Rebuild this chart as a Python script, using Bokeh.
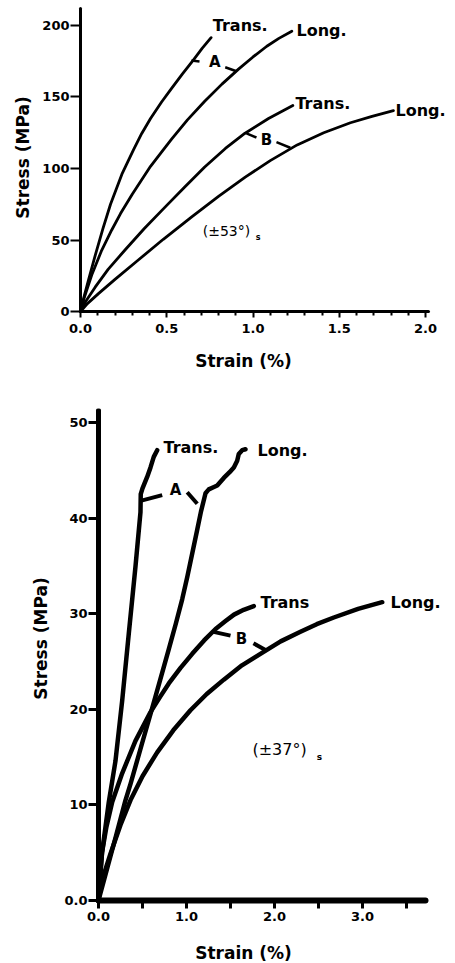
import math
from bokeh.plotting import figure
from bokeh.layouts import column
from bokeh.models import FixedTicker, ColumnDataSource, LabelSet, Label
from bokeh.embed import file_html
from bokeh.resources import INLINE
from bokeh.core.properties import value

FONT = "DejaVu Sans"

# ---------------- top panel: (±53°)s ----------------
top_a_trans_x = [0.0, 0.02, 0.045, 0.087, 0.13, 0.174, 0.24, 0.307, 0.355, 0.406, 0.47, 0.528, 0.59, 0.655, 0.705, 0.757]
top_a_trans_y = [0.0, 10.0, 21.5, 40.0, 58.0, 75.0, 96.0, 113.0, 124.5, 135.0, 146.5, 156.0, 166.0, 176.0, 184.0, 191.5]
top_a_long_x = [0.0, 0.02, 0.065, 0.12, 0.181, 0.232, 0.3, 0.406, 0.473, 0.528, 0.62, 0.72, 0.82, 0.916, 1.0, 1.08, 1.15, 1.225]
top_a_long_y = [0.0, 9.0, 25.5, 42.0, 57.0, 68.5, 82.0, 101.5, 112.0, 120.5, 134.0, 147.0, 159.0, 169.5, 178.0, 185.5, 191.0, 196.0]
top_b_trans_x = [0.0, 0.03, 0.085, 0.16, 0.258, 0.37, 0.49, 0.6, 0.72, 0.84, 0.952, 1.09, 1.231]
top_b_trans_y = [0.0, 7.0, 17.0, 29.5, 43.0, 58.0, 73.0, 86.5, 101.0, 114.0, 124.5, 135.0, 144.0]
top_b_long_x = [0.0, 0.04, 0.104, 0.2, 0.335, 0.48, 0.643, 0.8, 0.955, 1.1, 1.256, 1.41, 1.565, 1.69, 1.814]
top_b_long_y = [0.0, 5.5, 12.5, 22.5, 36.0, 50.5, 66.0, 80.5, 94.0, 105.5, 116.5, 125.0, 132.0, 136.5, 140.5]

top_x_ticks = [0.0, 0.5, 1.0, 1.5, 2.0]
top_x_tick_labels = ["0.0", "0.5", "1.0", "1.5", "2.0"]
top_x_minor = [0.1, 0.2, 0.3, 0.4, 0.6, 0.7, 0.8, 0.9, 1.1, 1.2, 1.3, 1.4, 1.6, 1.7, 1.8, 1.9]
top_y_ticks = [0, 50, 100, 150, 200]
top_y_tick_labels = ["0", "50", "100", "150", "200"]
top_x_axis_end = 2.017
top_y_axis_end = 212.0

top_curve_labels = ["Trans.", "Long.", "Trans.", "Long."]
top_curve_label_x = [0.767, 1.252, 1.246, 1.826]
top_curve_label_y = [200.0, 196.5, 145.5, 140.6]
top_group_labels = ["A", "B"]
top_group_label_x = [0.779, 1.078]
top_group_label_y = [174.3, 119.6]
top_ptr_x0 = [0.643, 0.839, 0.962, 1.136]
top_ptr_y0 = [175.5, 170.8, 124.5, 118.4]
top_ptr_x1 = [0.69, 0.904, 1.02, 1.216]
top_ptr_y1 = [174.8, 168.0, 121.7, 114.5]
top_note = "(±53°)"
top_note_x = 0.846
top_note_y = 56.6
top_note_sub_x = 1.03
top_note_sub_y = 52.0
top_xtitle_pos = (0.945, -34.3)
top_ytitle_pos = (-0.336, 107.7)

# ---------------- bottom panel: (±37°)s ----------------
bot_a_trans_x = [0.0, 0.04, 0.117, 0.193, 0.269, 0.344, 0.42, 0.477, 0.48, 0.50, 0.553, 0.591, 0.628, 0.667]
bot_a_trans_y = [0.0, 5.0, 10.3, 14.6, 20.9, 27.9, 34.9, 40.6, 42.5, 43.1, 44.3, 45.3, 46.4, 47.1]
bot_a_long_x = [0.0, 0.1, 0.2, 0.307, 0.364, 0.497, 0.628, 0.72, 0.799, 0.88, 0.951, 1.01, 1.065, 1.12,
                1.165, 1.2, 1.216, 1.253, 1.3, 1.349, 1.424, 1.49, 1.538, 1.576, 1.594, 1.633, 1.67]
bot_a_long_y = [0.0, 3.4, 6.8, 10.5, 12.2, 16.5, 20.7, 23.7, 26.3, 29.0, 31.5, 33.9, 36.3, 38.7,
                40.7, 42.0, 42.6, 43.0, 43.2, 43.4, 44.2, 44.8, 45.3, 46.0, 46.7, 47.1, 47.2]
bot_b_trans_x = [0.0, 0.02, 0.04, 0.09, 0.156, 0.269, 0.42, 0.591, 0.7, 0.799, 0.93, 1.065, 1.2, 1.33,
                 1.44, 1.54, 1.65, 1.765]
bot_b_trans_y = [0.0, 2.8, 5.0, 7.7, 10.3, 13.3, 16.7, 19.7, 21.3, 22.7, 24.3, 25.8, 27.2, 28.4,
                 29.2, 29.9, 30.4, 30.8]
bot_b_long_x = [0.0, 0.023, 0.07, 0.136, 0.25, 0.364, 0.5, 0.667, 0.85, 1.045, 1.23, 1.424, 1.63, 1.84,
                2.07, 2.295, 2.48, 2.674, 2.95, 3.224]
bot_b_long_y = [0.0, 1.4, 3.0, 4.9, 7.9, 10.5, 13.0, 15.5, 17.8, 19.9, 21.6, 23.1, 24.6, 25.8,
                27.1, 28.1, 28.9, 29.6, 30.5, 31.2]

bot_x_ticks = [0, 1, 2, 3]
bot_x_tick_labels = ["0.0", "1.0", "2.0", "3.0"]
bot_x_minor = [0.5, 1.5, 2.5, 3.5]
bot_y_ticks = [0, 10, 20, 30, 40, 50]
bot_y_tick_labels = ["0.0", "10", "20", "30", "40", "50"]
bot_x_axis_end = 3.716
bot_y_axis_end = 51.3

bot_curve_labels = ["Trans.", "Long.", "Trans", "Long."]
bot_curve_label_x = [0.739, 1.807, 1.841, 3.318]
bot_curve_label_y = [47.4, 47.1, 31.2, 31.2]
bot_group_labels = ["A", "B"]
bot_group_label_x = [0.875, 1.625]
bot_group_label_y = [42.9, 27.3]
bot_ptr_x0 = [0.477, 1.008, 1.307, 1.761]
bot_ptr_y0 = [41.8, 42.7, 28.1, 26.9]
bot_ptr_x1 = [0.724, 1.122, 1.5, 1.898]
bot_ptr_y1 = [42.4, 41.5, 27.7, 26.2]
bot_note = "(±37°)"
bot_note_x = 2.057
bot_note_y = 15.8
bot_note_sub_x = 2.51
bot_note_sub_y = 15.0
bot_xtitle_pos = (1.648, -5.54)
bot_ytitle_pos = (-0.659, 27.4)

x_label = "Strain (%)"
y_label = "Stress (MPa)"


def style_axes(p, axis_w, tick_w, xtick_out, ytick_out, xb, yb):
    p.grid.visible = False
    p.outline_line_color = None
    p.xaxis.fixed_location = 0
    p.yaxis.fixed_location = 0
    p.xaxis.bounds = xb
    p.yaxis.bounds = yb
    for ax in (p.xaxis[0], p.yaxis[0]):
        ax.axis_line_width = axis_w
        ax.axis_line_color = "black"
        ax.axis_line_cap = "round"
        ax.major_tick_line_width = tick_w
        ax.minor_tick_line_width = tick_w
        ax.major_tick_in = 0
        ax.minor_tick_in = 0
        ax.major_label_text_font = FONT
        ax.major_label_text_font_style = "bold"
        ax.major_label_text_font_size = "13px"
        ax.major_label_text_color = "black"
    p.xaxis.major_tick_out = xtick_out
    p.xaxis.minor_tick_out = xtick_out - 2
    p.yaxis.major_tick_out = ytick_out
    p.yaxis.minor_tick_line_color = None


def axis_title(p, text, pos, angle):
    p.add_layout(Label(x=pos[0], y=pos[1], text=text, angle=angle,
                       text_font=FONT, text_font_style="bold", text_font_size="17px",
                       text_align="center", text_baseline="middle", text_color="black"))


def labels(p, xs, ys, texts, size, align, style="bold"):
    src = ColumnDataSource(dict(x=xs, y=ys, text=texts))
    p.add_layout(LabelSet(x="x", y="y", text="text", source=src,
                          text_font=value(FONT), text_font_style=style, text_font_size=size,
                          text_align=align, text_baseline="middle", text_color="black"))


# ---- top figure ----
p1 = figure(width=455, height=408, x_range=(-0.4638, 2.1739), y_range=(-67.83, 217.48),
            output_backend="svg", toolbar_location=None, min_border=0)
style_axes(p1, 3, 2, 6, 10, (0, top_x_axis_end), (0, top_y_axis_end))
p1.xaxis.ticker = FixedTicker(ticks=top_x_ticks, minor_ticks=top_x_minor)
p1.xaxis.major_label_overrides = dict(zip(top_x_ticks, top_x_tick_labels))
p1.yaxis.ticker = FixedTicker(ticks=top_y_ticks)
p1.yaxis.major_label_overrides = dict(zip(top_y_ticks, top_y_tick_labels))
p1.xaxis.major_label_standoff = 6
p1.yaxis.major_label_standoff = 1

for xs, ys in [(top_a_trans_x, top_a_trans_y), (top_a_long_x, top_a_long_y),
               (top_b_trans_x, top_b_trans_y), (top_b_long_x, top_b_long_y)]:
    p1.line(xs, ys, line_width=2.8, line_color="black", line_join="round", line_cap="round")

p1.segment(top_ptr_x0, top_ptr_y0, top_ptr_x1, top_ptr_y1, line_width=2.5, line_color="black")
labels(p1, top_curve_label_x, top_curve_label_y, top_curve_labels, "16px", "left")
labels(p1, top_group_label_x, top_group_label_y, top_group_labels, "15px", "center")
labels(p1, [top_note_x], [top_note_y], [top_note], "14px", "center", "normal")
labels(p1, [top_note_sub_x], [top_note_sub_y], ["s"], "8px", "center")
axis_title(p1, y_label, top_ytitle_pos, math.pi / 2)
axis_title(p1, x_label, top_xtitle_pos, 0)

# ---- bottom figure ----
p2 = figure(width=455, height=554, x_range=(-1.1136, 4.0568), y_range=(-6.485, 51.46),
            output_backend="svg", toolbar_location=None, min_border=0)
style_axes(p2, 5, 3, 8, 10, (0, bot_x_axis_end), (0, bot_y_axis_end))
p2.xaxis.axis_line_width = 6
p2.xaxis.minor_tick_out = 8
p2.xaxis.ticker = FixedTicker(ticks=bot_x_ticks, minor_ticks=bot_x_minor)
p2.xaxis.major_label_overrides = dict(zip(bot_x_ticks, bot_x_tick_labels))
p2.yaxis.ticker = FixedTicker(ticks=bot_y_ticks)
p2.yaxis.major_label_overrides = dict(zip(bot_y_ticks, bot_y_tick_labels))
p2.xaxis.major_label_standoff = 4
p2.yaxis.major_label_standoff = 1

for xs, ys in [(bot_a_trans_x, bot_a_trans_y), (bot_a_long_x, bot_a_long_y),
               (bot_b_trans_x, bot_b_trans_y), (bot_b_long_x, bot_b_long_y)]:
    p2.line(xs, ys, line_width=4.5, line_color="black", line_join="round", line_cap="round")

p2.segment(bot_ptr_x0, bot_ptr_y0, bot_ptr_x1, bot_ptr_y1, line_width=4, line_color="black")
labels(p2, bot_curve_label_x, bot_curve_label_y, bot_curve_labels, "16px", "left")
labels(p2, bot_group_label_x, bot_group_label_y, bot_group_labels, "15px", "center")
labels(p2, [bot_note_x], [bot_note_y], [bot_note], "16px", "center", "normal")
labels(p2, [bot_note_sub_x], [bot_note_sub_y], ["s"], "9px", "center")
axis_title(p2, y_label, bot_ytitle_pos, math.pi / 2)
axis_title(p2, x_label, bot_xtitle_pos, 0)

layout = column(p1, p2, spacing=0)
open("out.html", "w").write(file_html(layout, INLINE))
